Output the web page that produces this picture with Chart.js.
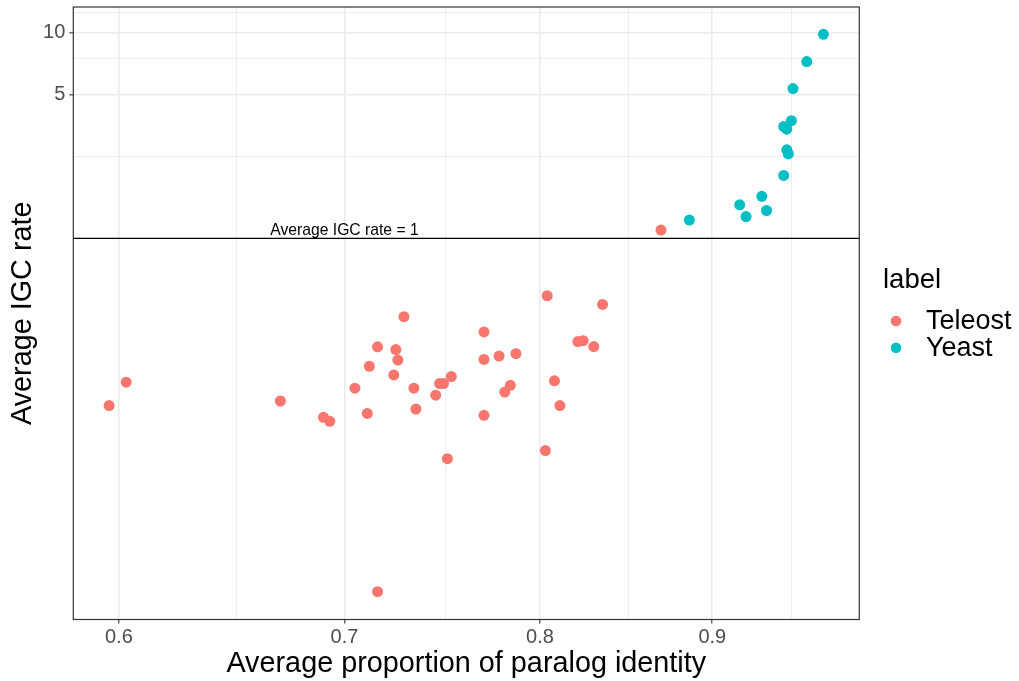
<!DOCTYPE html>
<html><head><meta charset="utf-8">
<script src="https://cdn.jsdelivr.net/npm/chart.js@4/dist/chart.umd.min.js"></script>
<style>html,body{margin:0;padding:0;background:#fff}#wrap{width:1019px;height:681px;position:relative}canvas{display:block}</style>
</head><body><div id="wrap"><canvas id="c" width="1019" height="681"></canvas></div>
<script>
// ---- data ----
const teleostX = [0.596,0.603,0.670,0.690,0.693,0.705,0.804,0.835,0.729,0.770,0.716,0.725,0.821,0.824,0.830,0.726,0.770,0.778,0.787,0.712,0.724,0.753,0.734,0.747,0.749,0.745,0.808,0.784,0.781,0.711,0.735,0.770,0.811,0.751,0.803,0.716,0.869];
const teleostY = [0.154,0.200,0.162,0.135,0.129,0.187,0.526,0.477,0.416,0.351,0.297,0.288,0.315,0.318,0.298,0.256,0.258,0.268,0.275,0.239,0.217,0.213,0.187,0.197,0.197,0.173,0.203,0.193,0.179,0.141,0.148,0.138,0.154,0.085,0.093,0.0192,1.096];
const yeastX = [0.971,0.960,0.951,0.950,0.945,0.947,0.947,0.948,0.945,0.931,0.917,0.934,0.921,0.886];
const yeastY = [9.80,7.22,5.34,3.73,3.49,3.39,2.69,2.57,2.02,1.60,1.454,1.365,1.276,1.226];
const seriesNames = ['Teleost','Yeast'];
const seriesColors = ['#F8766D','#00BFC4'];
const xTickValues = [0.6,0.65,0.7,0.75,0.8,0.85,0.9,0.95];
const xTickLabels = ['0.6','','0.7','','0.8','','0.9',''];
const yTickValues = [2.5,5,7.5,10,12.5];
const yTickLabels = ['','5','','10',''];
const referenceRate = 1;
const annotationX = 0.7;
const annotationText = 'Average IGC rate = 1';
const xTitle = 'Average proportion of paralog identity';
const yTitle = 'Average IGC rate';
const legendTitle = 'label';

const FONT = "'Liberation Sans', Arial, Helvetica, sans-serif";
const toPts = (xs, ys) => xs.map((x, i) => ({x: x, y: ys[i]}));

const decor = {
  id: 'decor',
  afterDatasetsDraw(chart) {
    const {ctx, chartArea: a, scales} = chart;
    const yRef = scales.y.getPixelForValue(referenceRate);
    ctx.save();
    ctx.strokeStyle = '#000';
    ctx.lineWidth = 1.3;
    ctx.beginPath(); ctx.moveTo(a.left, yRef); ctx.lineTo(a.right, yRef); ctx.stroke();
    ctx.fillStyle = '#000';
    ctx.font = '15.7px ' + FONT;
    ctx.textAlign = 'center';
    ctx.textBaseline = 'alphabetic';
    ctx.fillText(annotationText, scales.x.getPixelForValue(annotationX), yRef - 3.5);
    ctx.strokeStyle = '#333333';
    ctx.lineWidth = 1.2;
    ctx.strokeRect(a.left, a.top, a.right - a.left, a.bottom - a.top);
    ctx.textAlign = 'left';
    ctx.fillStyle = '#000';
    ctx.font = '27.5px ' + FONT;
    ctx.fillText(legendTitle, 883, 288);
    seriesNames.forEach((n, i) => {
      const cy = 321 + i * 26.7;
      ctx.fillStyle = seriesColors[i];
      ctx.beginPath(); ctx.arc(896, cy, 5.3, 0, Math.PI * 2); ctx.fill();
      ctx.fillStyle = '#000';
      ctx.font = '27px ' + FONT;
      ctx.textBaseline = 'middle';
      ctx.fillText(n, 926, cy + 1);
    });
    ctx.restore();
  }
};

new Chart(document.getElementById('c'), {
  type: 'scatter',
  data: {
    datasets: [
      {label: seriesNames[0], data: toPts(teleostX, teleostY), backgroundColor: seriesColors[0], borderWidth: 0, pointRadius: 5.5, pointHoverRadius: 5.5},
      {label: seriesNames[1], data: toPts(yeastX, yeastY), backgroundColor: seriesColors[1], borderWidth: 0, pointRadius: 5.5, pointHoverRadius: 5.5}
    ]
  },
  options: {
    responsive: false,
    animation: false,
    devicePixelRatio: 1,
    layout: {padding: {top: 0, right: 159.7, bottom: 0, left: 0}},
    plugins: {legend: {display: false}, tooltip: {enabled: false}},
    scales: {
      x: {
        type: 'logarithmic', min: 0.5816, max: 0.9951, bounds: 'data',
        afterBuildTicks: s => { s.ticks = xTickValues.map(v => ({value: v})); },
        afterFit: s => { s.height = 681 - 619.5; },
        ticks: {autoSkip: false, maxRotation: 0, minRotation: 0, padding: 2, color: '#4D4D4D',
          font: {size: 20, family: FONT}, callback: (v, i) => xTickLabels[i]},
        grid: {color: '#EBEBEB', lineWidth: c => (xTickLabels[c.index] ? 1.6 : 0.8), tickLength: 4,
          tickColor: c => (xTickLabels[c.index] ? '#333333' : 'rgba(0,0,0,0)'), tickWidth: 1.1},
        border: {display: false},
        title: {display: true, text: xTitle, color: '#000', font: {size: 28.8, family: FONT}, padding: {top: 0, bottom: 0}}
      },
      y: {
        type: 'logarithmic', min: 0.01406, max: 13.3, bounds: 'data',
        afterBuildTicks: s => { s.ticks = yTickValues.map(v => ({value: v})); },
        afterFit: s => { s.width = 73.3; },
        ticks: {autoSkip: false, padding: 4, color: '#4D4D4D',
          font: {size: 20, family: FONT, lineHeight: 0.3}, callback: (v, i) => yTickLabels[i]},
        grid: {color: '#EBEBEB', lineWidth: c => (yTickLabels[c.index] ? 1.6 : 0.8), tickLength: 4,
          tickColor: c => (yTickLabels[c.index] ? '#333333' : 'rgba(0,0,0,0)'), tickWidth: 1.1},
        border: {display: false},
        title: {display: true, text: yTitle, color: '#000', font: {size: 28.8, family: FONT}, padding: {top: 6, bottom: 0}}
      }
    }
  },
  plugins: [decor]
});
</script></body></html>
